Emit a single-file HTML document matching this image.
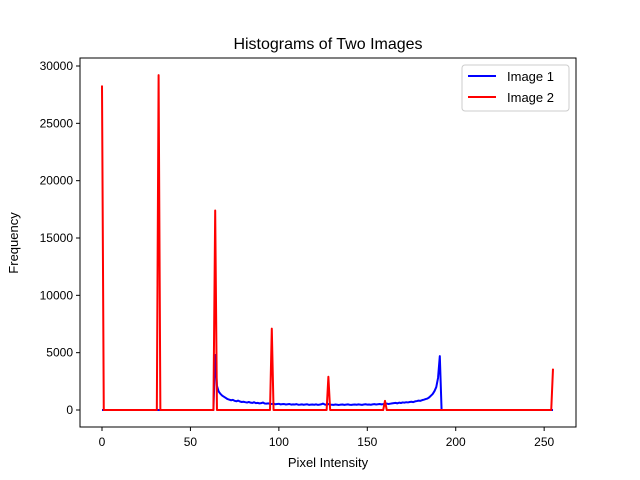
<!DOCTYPE html>
<html><head><meta charset="utf-8"><style>
body{margin:0;background:#fff;}
svg{display:block;font-family:"Liberation Sans","DejaVu Sans",sans-serif;}
</style></head><body>
<svg id="chart" width="640" height="480">
<rect x="0" y="0" width="640" height="480" fill="#fff"/>
<text x="328" y="49" font-size="16" text-anchor="middle">Histograms of Two Images</text>
<g id="marks"></g>
<g id="axes"></g>
<rect x="80" y="58" width="496" height="369" fill="none" stroke="#000" stroke-width="1"/>
<text x="328" y="467" font-size="13" text-anchor="middle">Pixel Intensity</text>
<text x="18" y="243" font-size="13" text-anchor="middle" transform="rotate(-90 18 243)">Frequency</text>
<g>
<rect x="462" y="65" width="107" height="46" rx="3" fill="#fff" fill-opacity="0.8" stroke="#ccc"/>
<g>
<line x1="468" y1="76" x2="496" y2="76" stroke="#0000ff" stroke-width="2"/>
<text x="507" y="81" font-size="13">Image 1</text></g>
<g>
<line x1="468" y1="97" x2="496" y2="97" stroke="#ff0000" stroke-width="2"/>
<text x="507" y="102" font-size="13">Image 2</text></g>
</g>
</svg>
<script>
const xTicks=[0,50,100,150,200,250];
const yTicks=[0,5000,10000,15000,20000,25000,30000];
const blueStart=64;
const blueVals=[4800,2100,1600,1400,1250,1150,1050,950,900,850,880,800,760,820,740,700,720,680,650,700,640,620,680,600,620,580,600,650,570,560,580,540,520,560,500,520,540,490,510,520,480,500,520,470,490,480,510,460,470,490,460,480,500,450,470,480,460,490,450,470,500,560,480,450,520,470,460,450,480,460,440,470,480,450,470,490,460,450,470,480,460,490,470,450,480,500,470,480,460,490,510,480,500,520,490,510,540,560,520,550,580,600,620,580,640,610,660,640,680,660,700,720,690,750,780,820,800,860,900,950,1000,1100,1250,1400,1650,2000,2800,4700];
const redIdx=[0,32,64,96,128,160,255];
const redVals=[28300,29200,17400,7100,2900,800,3600];
const NS='http://www.w3.org/2000/svg';
const xs=v=>102+v*(553-102)/255;
const ys=v=>410-v*(410-66)/30000;
function mk(t,a,p){const e=document.createElementNS(NS,t);for(const k in a)e.setAttribute(k,a[k]);p.appendChild(e);return e;}
const axes=document.getElementById('axes'),marks=document.getElementById('marks');
xTicks.forEach(v=>{const g=mk('g',{},axes);


mk('line',{x1:xs(v),x2:xs(v),y1:427,y2:431,stroke:'#000'},g);
const t=mk('text',{x:xs(v),y:446,'font-size':12,'text-anchor':'middle'},g);t.textContent=v;});
yTicks.forEach(v=>{const g=mk('g',{},axes);


mk('line',{x1:76,x2:80,y1:ys(v),y2:ys(v),stroke:'#000'},g);
const t=mk('text',{x:73,y:ys(v)+4,'font-size':12,'text-anchor':'end'},g);t.textContent=v;});
const blue=new Array(256).fill(0);blueVals.forEach((v,i)=>blue[blueStart+i]=v);
const red=new Array(256).fill(0);redIdx.forEach((k,i)=>red[k]=redVals[i]);
function line(arr,col,name){const p=mk('polyline',{points:arr.map((v,i)=>xs(i).toFixed(2)+','+ys(v).toFixed(2)).join(' '),fill:'none',stroke:col,'stroke-width':2,'stroke-linejoin':'round'},marks);

}
line(blue,'#0000ff','series-image-1');
line(red,'#ff0000','series-image-2');
</script>
</body></html>
